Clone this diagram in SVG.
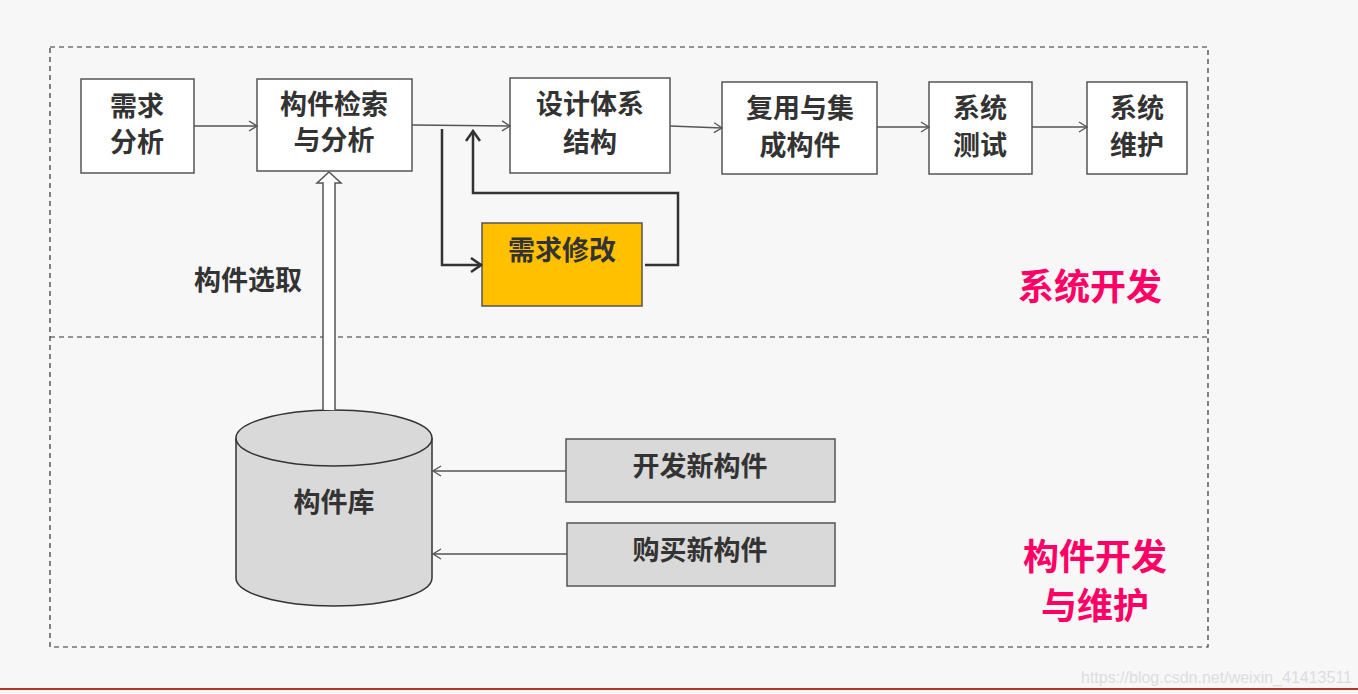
<svg xmlns="http://www.w3.org/2000/svg" width="1358" height="694" viewBox="0 0 1358 694">
<defs>
<style>
.bx{fill:#fff;stroke:#555;stroke-width:1.5}
.t{font-family:"Noto Sans CJK SC","Noto Sans",sans-serif;font-weight:bold;font-size:27px;fill:#333;text-anchor:middle}
.c{stroke:#555;stroke-width:1.3;fill:none}
.k{stroke:#333;stroke-width:2.5;fill:none}
.pk{font-family:"Noto Sans CJK SC",sans-serif;font-weight:bold;font-size:36px;fill:#FF0066;text-anchor:middle}
</style>
<marker id="a" markerWidth="12" markerHeight="12" refX="10" refY="6" orient="auto" markerUnits="userSpaceOnUse"><path d="M2,1 L10,6 L2,11" fill="none" stroke="#555" stroke-width="1.3"/></marker>
<marker id="b" markerWidth="14" markerHeight="16" refX="12" refY="8" orient="auto" markerUnits="userSpaceOnUse"><path d="M2,1 L12,8 L2,15" fill="none" stroke="#333" stroke-width="2.5"/></marker>
</defs>
<rect width="1358" height="694" fill="#f7f7f7"/>
<line x1="0" y1="689" x2="1358" y2="689" stroke="#b0392b" stroke-width="2"/>
<text x="1352" y="683" font-family="Liberation Sans,sans-serif" font-size="16" fill="#ddd" text-anchor="end">https://blog.csdn.net/weixin_41413511</text>
<rect x="50" y="47" width="1158" height="600" fill="none" stroke="#333" stroke-width="1.2" stroke-dasharray="5,4"/>
<line x1="50" y1="337" x2="1208" y2="337" stroke="#333" stroke-width="1.2" stroke-dasharray="5,4"/>
<g id="n1"><rect class="bx" x="81" y="79" width="113" height="94"/><text class="t" x="137" y="116">需求</text><text class="t" x="137" y="152">分析</text></g>
<g id="n2"><rect class="bx" x="257" y="79" width="155" height="92"/><text class="t" x="334" y="114">构件检索</text><text class="t" x="334" y="150">与分析</text></g>
<g id="n3"><rect class="bx" x="510" y="78" width="160" height="95"/><text class="t" x="590" y="114">设计体系</text><text class="t" x="590" y="152">结构</text></g>
<g id="n4"><rect class="bx" x="722" y="82" width="155" height="92"/><text class="t" x="800" y="118">复用与集</text><text class="t" x="800" y="155">成构件</text></g>
<g id="n5"><rect class="bx" x="929" y="82" width="103" height="92"/><text class="t" x="980" y="118">系统</text><text class="t" x="980" y="155">测试</text></g>
<g id="n6"><rect class="bx" x="1087" y="82" width="100" height="92"/><text class="t" x="1137" y="118">系统</text><text class="t" x="1137" y="155">维护</text></g>
<g id="n7"><rect x="482" y="223" width="160" height="83" fill="#FFC000" stroke="#555" stroke-width="1.5"/><text class="t" x="562" y="260">需求修改</text></g>
<g id="n8"><rect x="566" y="439" width="269" height="63" fill="#d9d9d9" stroke="#555" stroke-width="1.5"/><text class="t" x="700" y="476">开发新构件</text></g>
<g id="n9"><rect x="567" y="523" width="268" height="63" fill="#d9d9d9" stroke="#555" stroke-width="1.5"/><text class="t" x="700" y="560">购买新构件</text></g>
<g id="n10"><path d="M236,438 V578 A98,28 0 0 0 432,578 V438" fill="#d9d9d9" stroke="#333" stroke-width="1.5"/><ellipse cx="334" cy="438" rx="98" ry="28" fill="#d9d9d9" stroke="#333" stroke-width="1.5"/><text class="t" x="334" y="512">构件库</text></g>
<text class="t" x="248" y="290">构件选取</text>
<text class="pk" x="1090" y="300">系统开发</text>
<text class="pk" x="1095" y="570">构件开发</text>
<text class="pk" x="1095" y="619">与维护</text>
<g id="edges">
<line class="c" x1="194" y1="126" x2="257" y2="126" marker-end="url(#a)"/>
<line class="c" x1="412" y1="125" x2="510" y2="126" marker-end="url(#a)"/>
<line class="c" x1="670" y1="126" x2="722" y2="128" marker-end="url(#a)"/>
<line class="c" x1="877" y1="127" x2="929" y2="127" marker-end="url(#a)"/>
<line class="c" x1="1032" y1="127" x2="1087" y2="127" marker-end="url(#a)"/>
<polyline class="k" points="442,129 442,265 481,265" marker-end="url(#b)"/>
<polyline class="k" points="645,265 678,265 678,193 473,193 473,131" marker-end="url(#b)"/>
<line class="c" x1="566" y1="471" x2="433" y2="471" marker-end="url(#a)"/>
<line class="c" x1="567" y1="554" x2="433" y2="554" marker-end="url(#a)"/>
<path d="M323,410 V183 H317 L329,172 L341,183 H335 V410" fill="#fff" stroke="#555" stroke-width="1.5"/>
</g>
</svg>
